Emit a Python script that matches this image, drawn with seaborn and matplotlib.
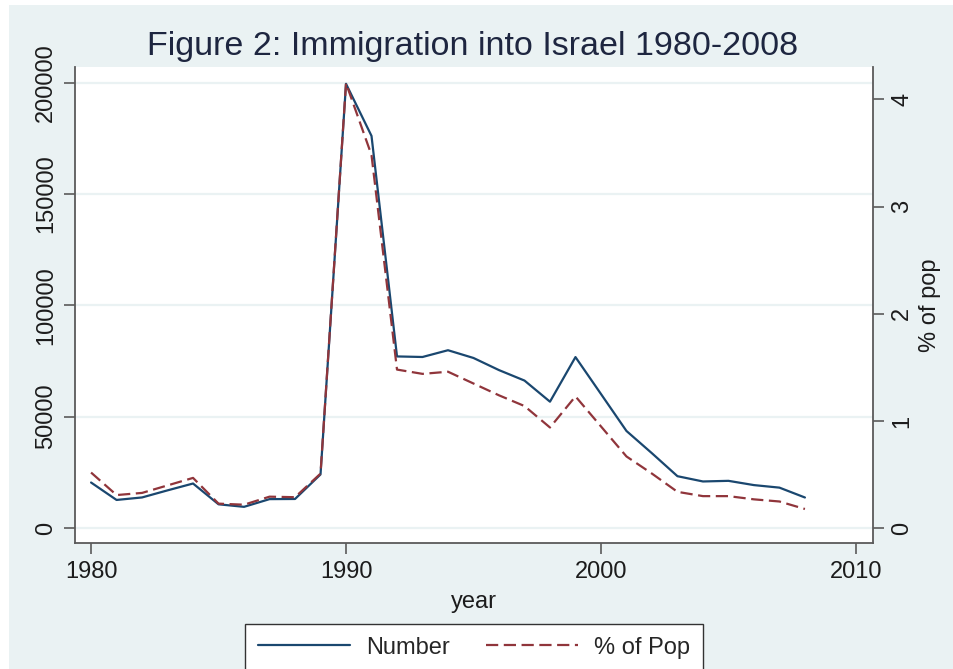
import matplotlib
matplotlib.use("Agg")
import matplotlib.pyplot as plt
import matplotlib.patches as mpatches
import seaborn as sns
import pandas as pd

# Immigration into Israel, 1980-2008
years = list(range(1980, 2009))
number = [20428, 12599, 13723, 16906, 19981, 10642, 9505, 12965, 13034, 24050,
          199516, 176100, 77057, 76805, 79844, 76361, 70919, 66221, 56730, 76766,
          60192, 43580, 33567, 23268, 20899, 21183, 19269, 18131, 13699]
pct_pop = [0.52, 0.31, 0.33, 0.40, 0.47, 0.23, 0.22, 0.295, 0.29, 0.51,
           4.15, 3.48, 1.48, 1.44, 1.46, 1.35, 1.24, 1.14, 0.94, 1.23,
           0.95, 0.67, 0.51, 0.34, 0.30, 0.30, 0.27, 0.25, 0.18]
left_ticks = [0, 50000, 100000, 150000, 200000]
right_ticks = [0, 1, 2, 3, 4]
x_ticks = [1980, 1990, 2000, 2010]
series_labels = ["Number", "% of Pop"]

df = pd.DataFrame({"year": years, "number": number, "pct": pct_pop})

sns.set_theme(style="white")
plt.rcParams["font.family"] = ["Liberation Sans", "DejaVu Sans"]

BG = "#EAF2F3"
NAVY = "#1A476F"
MAROON = "#90353B"
AXC = "#5a5a5a"
TXT = "#1c1c1c"

fig = plt.figure(figsize=(9.54, 6.69), dpi=100, facecolor="white")
# graph region background (thin white margin at top/left)
fig.patches.append(mpatches.Rectangle((9 / 954, 0), 1, 1 - 5 / 669,
                                      transform=fig.transFigure,
                                      facecolor=BG, edgecolor="none", zorder=-10))

ax = fig.add_axes([75 / 954, 1 - 543 / 669, (873 - 75) / 954, (543 - 66.7) / 669])
ax.set_facecolor("white")
ax2 = ax.twinx()

sns.lineplot(data=df, x="year", y="number", ax=ax, color=NAVY, linewidth=1.6,
             legend=False)
sns.lineplot(data=df, x="year", y="pct", ax=ax2, color=MAROON, linewidth=1.6,
             legend=False)
line_num = ax.lines[0]
line_pct = ax2.lines[0]
line_pct.set_dashes((5.5, 2.5))

ax.set_xlim(1979.37, 2010.67)
ax.set_ylim(-6737, 207186)
ax2.set_ylim(-0.137, 4.304)

ax.set_xticks(x_ticks)
ax.set_yticks(left_ticks)
ax2.set_yticks(right_ticks)
ax.set_yticklabels([str(v) for v in left_ticks])
ax2.set_yticklabels([str(v) for v in right_ticks])

ax.grid(axis="y", color=BG, linewidth=1.6)
ax.grid(axis="x", visible=False)
ax2.grid(False)
ax.set_axisbelow(True)

for a in (ax, ax2):
    a.spines["top"].set_visible(False)
    for side in ("left", "bottom", "right"):
        a.spines[side].set_color(AXC)
        a.spines[side].set_linewidth(1.3)
ax.spines["right"].set_visible(False)
ax2.spines["left"].set_visible(False)
ax2.spines["bottom"].set_visible(False)

ax.tick_params(axis="both", which="major", length=8, width=1.2, color=AXC,
               labelsize=17, labelcolor=TXT, direction="out")
ax.tick_params(axis="x", pad=5, bottom=True)
ax.tick_params(axis="y", pad=5, left=True)
ax2.tick_params(axis="y", length=8, width=1.2, color=AXC, labelsize=17,
                labelcolor=TXT, direction="out", pad=5, right=True)
for lab in ax.get_yticklabels():
    lab.set_rotation(90)
    lab.set_va("center")
for lab in ax2.get_yticklabels():
    lab.set_rotation(90)
    lab.set_va("center")

ax.set_xlabel("year", fontsize=17, color=TXT, labelpad=6)
ax.set_ylabel("")
ax2.set_ylabel("% of pop", fontsize=17, color=TXT, labelpad=4)

fig.text(473 / 954, 1 - 46 / 669, "Figure 2: Immigration into Israel 1980-2008",
         ha="center", va="center", fontsize=24.5, color="#1e2640")

leg = fig.legend([line_num, line_pct], series_labels, ncol=2,
                 loc="lower center", bbox_to_anchor=(474 / 954, -0.004),
                 borderaxespad=0.0,
                 frameon=True, fancybox=False, fontsize=17, handlelength=3.9,
                 columnspacing=1.55, handletextpad=0.68, borderpad=0.55)
frame = leg.get_frame()
frame.set_edgecolor("#333333")
frame.set_linewidth(1.0)
frame.set_facecolor("white")
frame.set_alpha(1)

fig.savefig("out.png", dpi=100, facecolor="white")
